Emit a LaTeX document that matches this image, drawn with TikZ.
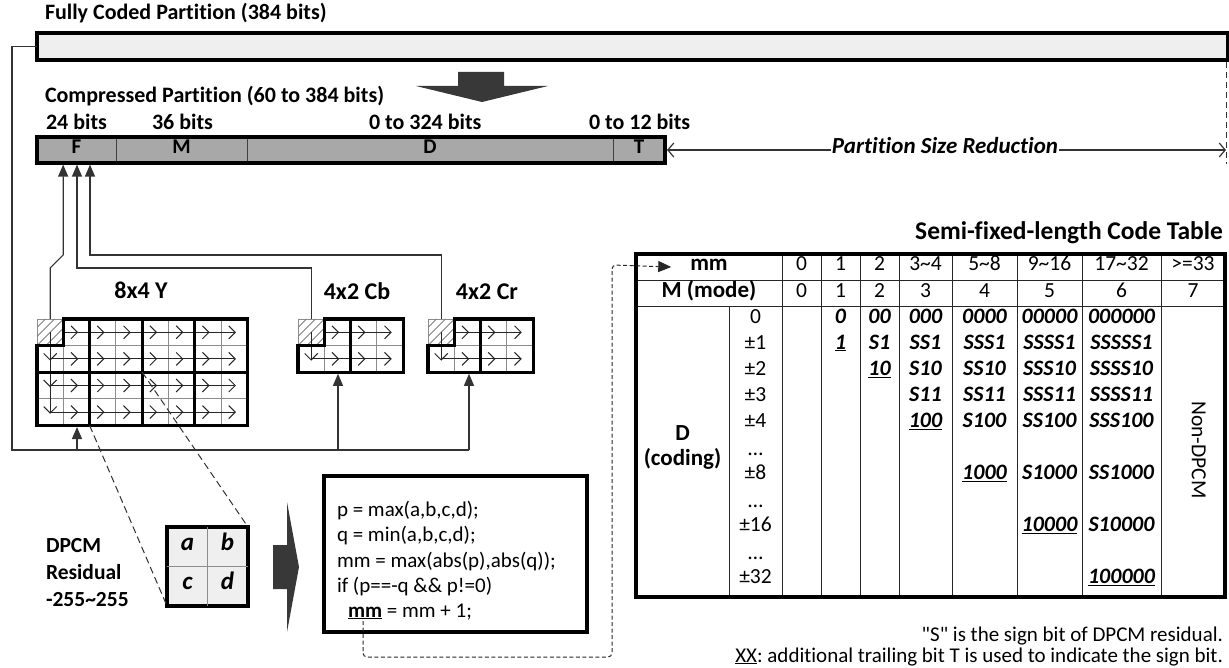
\documentclass[tikz,border=0pt]{standalone}
\usepackage{fontspec}
\setmainfont[Ligatures=NoCommon]{Carlito}
\usetikzlibrary{arrows.meta,calc}
\newcommand\myfs[1]{\fontsize{#1}{#1}\selectfont}
\definecolor{lightbar}{HTML}{EFEFEF}
\definecolor{midbar}{HTML}{A8A8A8}
\definecolor{darkar}{HTML}{383838}
\definecolor{gridgray}{HTML}{8C8C8C}
\newcommand\mychevr[2]{\draw[flow] ({#1-5.5},{#2-6.5}) -- ({#1+1},{#2}) -- ({#1-5.5},{#2+6.5});}
\newcommand\mychevd[2]{\draw[flow] ({#1-6.5},{#2-5.5}) -- ({#1},{#2+1}) -- ({#1+6.5},{#2-5.5});}
\def\cw{26.3}
\def\ch{26.6}
\newcommand\mygrid[5]{%
  \pgfmathsetmacro\gW{#4*\cw}%
  \pgfmathsetmacro\gH{#5*\ch}%
  \pgfmathtruncatemacro\gnm{#4-1}%
  \pgfmathtruncatemacro\gmm{#5-1}%
  \pgfmathtruncatemacro\gnb{#4/2-1}%
  \node[box, draw=gridgray, line width=0.8pt, fill=white, minimum width=\gW pt, minimum height=\gH pt] (#1) at (#2,#3) {};
  \begin{scope}
    \clip (#2,#3) rectangle ++(\cw,\ch);
    \foreach \d in {-18,-9,0,9,18}{\draw[hatch] ({#2+\d},{#3+\ch}) -- ++(\ch,-\ch);}
  \end{scope}
  \foreach \i in {1,...,\gnm}{\draw[gridthin] ({#2+\i*\cw},#3) -- ++(0,\gH);}
  \foreach \j in {1,...,\gmm}{\draw[gridthin] (#2,{#3+\j*\ch}) -- ++(\gW,0);}
  \pgfmathsetmacro\cxa{#2+0.5*\cw}%
  \pgfmathsetmacro\cxe{#2+(#4-0.5)*\cw}%
  \draw[flow] (\cxa,{#3+0.5*\ch}) -- (\cxa,{#3+(#5-0.5)*\ch});
  \foreach \j in {2,...,#5}{\mychevd{\cxa}{#3+(\j-0.5)*\ch}}
  \foreach \j in {1,...,#5}{%
    \pgfmathsetmacro\yy{#3+(\j-0.5)*\ch}%
    \pgfmathsetmacro\xs{\j==1 ? #2+\cw : \cxa}%
    \draw[flow] (\xs,\yy) -- (\cxe,\yy);
    \foreach \i in {2,...,#4}{\mychevr{#2+(\i-0.5)*\cw}{\yy}}
  }
  \draw[thickb] ({#2+\cw},#3) -- ({#2+\gW},#3) -- ({#2+\gW},{#3+\gH}) -- (#2,{#3+\gH}) -- (#2,{#3+\ch}) -- ({#2+\cw},{#3+\ch}) -- cycle;
  \foreach \k in {1,...,\gnb}{\draw[thickb] ({#2+2*\k*\cw},#3) -- ++(0,\gH);}
  \ifnum#5>2 \draw[thickb] (#2,{#3+2*\ch}) -- ++(\gW,0);\fi
}
\newcommand\tv[3]{\node[t, font=\myfs{22}\bfseries\itshape] at (#1,{320+26*#2}) {#3};}
\begin{document}
\frenchspacing
\begin{tikzpicture}[x=1pt,y=-1pt,
  box/.style={inner sep=0pt, outer sep=0pt, anchor=north west},
  thickb/.style={line width=3.2pt},
  gridthin/.style={draw=gridgray, line width=0.9pt},
  hatch/.style={draw=gray, line width=0.9pt},
  flow/.style={draw=black!85, line width=1pt},
  conn/.style={draw=black!80, line width=1.2pt},
  arr/.style={conn, -{Triangle[length=12pt,width=10pt]}},
  t/.style={inner sep=0pt, outer sep=0pt, text height=.64em, text depth=0pt},
  lbl/.style={t, anchor=west, font=\myfs{22}\bfseries},
  seg/.style={box, draw=black!75, line width=0.9pt, fill=midbar, minimum height=26pt, font=\myfs{21}\bfseries, text height=.64em, text depth=0pt},
  tline/.style={draw=black!85, line width=1pt},
  zoomdash/.style={draw=black!80, line width=1pt, dash pattern=on 7pt off 4pt},
  mmdash/.style={draw=black!85, line width=1pt, dash pattern=on 4pt off 2.5pt}
]
\useasboundingbox (0,0) rectangle (1229,668);

% ---- fully coded partition
\node[lbl] (title) at (45,16) {Fully Coded Partition (384 bits)};
\node[box, draw, line width=3.2pt, fill=lightbar, minimum width=1191pt, minimum height=27pt] (full) at (37,33) {};
\fill[darkar] (458,72) -- (504,72) -- (504,86) -- (548,86) -- (482,102) -- (416,86) -- (458,86) -- cycle;

% ---- compressed partition
\node[lbl] (ctitle) at (45,99) {Compressed Partition (60 to 384 bits)};
\node[lbl] at (46,126) {24 bits};
\node[lbl] at (152,126) {36 bits};
\node[lbl] at (369,126) {0 to 324 bits};
\node[lbl] at (589,126) {0 to 12 bits};
\node[seg, minimum width=79pt] (F) at (37,137) {F};
\node[seg, minimum width=131pt] (M) at (116,137) {M};
\node[seg, minimum width=366pt] (D) at (247,137) {D};
\node[seg, minimum width=52pt] (T) at (613,137) {T};
\draw[thickb] (F.north west) rectangle (T.south east);

% ---- partition size reduction
\coordinate (psrtop) at (1226,62);
\coordinate (psrbot) at (1226,164);
\coordinate (psrR) at (1226,150);
\draw[conn, line width=1pt, dash pattern=on 6pt off 4pt] (psrtop) -- (psrbot);
\draw[conn, {Straight Barb[length=6pt,width=14pt]}-{Straight Barb[length=6pt,width=14pt]}] ($(T.east)+(2,0)$) -- (psrR);
\node[t, fill=white, inner xsep=1pt, inner ysep=3pt, font=\myfs{23}\bfseries\itshape] (psr) at (945,150) {Partition Size Reduction};

% ---- grids
\mygrid{Y}{37}{319}{8}{4}
\mygrid{Cb}{298}{319}{4}{2}
\mygrid{Cr}{428}{319}{4}{2}
\node[t, font=\myfs{24}\bfseries] at (141,295) {8x4 Y};
\node[t, font=\myfs{24}\bfseries] at (357,296) {4x2 Cb};
\node[t, font=\myfs{24}\bfseries] at (487,296) {4x2 Cr};

% ---- connectors to F
\coordinate (f1) at ($(F.south west)+(26.15,1.6)$);
\coordinate (f2) at ($(F.south west)+(40,1.6)$);
\coordinate (f3) at ($(F.south west)+(53,1.6)$);
\draw[arr] ($(Y.north west)+(13.15,0)$) -- ++(0,-51) -- ++(13,-13) -- (f1);
\draw[arr] ($(Cb.north west)+(13.15,0)$) -- ++(0,-51) -| (f2);
\draw[arr] ($(Cr.north west)+(13.15,0)$) -- ++(0,-64) -| (f3);

% ---- feed from fully coded partition
\coordinate (fb) at (12,450);
\coordinate (yin) at ($(Y.south west)+(40,1.6)$);
\coordinate (cbin) at ($(Cb.south west)+(40,1.6)$);
\coordinate (crin) at ($(Cr.south west)+(41,1.6)$);
\draw[conn] (full.west) -| (fb) -- (fb -| crin);
\draw[arr] (fb -| yin) -- (yin);
\draw[arr] (fb -| cbin) -- (cbin);
\draw[arr] (fb -| crin) -- (crin);

% ---- abcd block
\node[box, draw, line width=3.2pt, fill=lightbar, minimum width=81pt, minimum height=79pt] (abcd) at (167,527) {};
\draw[gridthin] (abcd.north) -- (abcd.south);
\draw[gridthin] (abcd.west) -- (abcd.east);
\node[t, font=\myfs{25}\bfseries\itshape] at ($(abcd.north west)+(20.5,20)$) {a};
\node[t, font=\myfs{25}\bfseries\itshape] at ($(abcd.north west)+(60.5,20)$) {b};
\node[t, font=\myfs{25}\bfseries\itshape] at ($(abcd.north west)+(20.5,59.5)$) {c};
\node[t, font=\myfs{25}\bfseries\itshape] at ($(abcd.north west)+(60.5,59.5)$) {d};
\draw[zoomdash] ($(Y.south west)+(52.6,0)$) -- (abcd.south west);
\draw[zoomdash] ($(Y.north west)+(105.2,53.2)$) -- (abcd.north east);
\node[t, anchor=west, font=\myfs{21.5}\bfseries] at (46,549) {DPCM};
\node[t, anchor=west, font=\myfs{21.5}\bfseries] at (46,576) {Residual};
\node[t, anchor=west, font=\myfs{21.5}\bfseries] at (46,603) {-255\textasciitilde255};
\fill[darkar] (273,545) -- (287,545) -- (287,502) -- (299,567) -- (287,632) -- (287,589) -- (273,589) -- cycle;

% ---- code box
\node[box, draw, line width=3.2pt, fill=white, minimum width=263pt, minimum height=156pt] (code) at (324,476) {};
\node[t, anchor=west, font=\myfs{21}] at (337,513) {p = max(a,b,c,d);};
\node[t, anchor=west, font=\myfs{21}] at (337,538) {q = min(a,b,c,d);};
\node[t, anchor=west, font=\myfs{21}] at (337,564) {mm = max(abs(p),abs(q));};
\node[t, anchor=west, font=\myfs{21}] at (337,589) {if (p==-q \&\& p!=0)};
\node[t, anchor=west, font=\myfs{21}] (l5) at (348,614) {\underline{\textbf{mm}} = mm + 1;};
\coordinate (mmu) at (363,621);

% ---- table
\node[box, minimum width=589pt, minimum height=343pt] (tbl) at (636,254) {};
\node[t, anchor=east, font=\myfs{25.5}\bfseries] at (1223,236) {Semi-fixed-length Code Table};
\foreach \x in {782,821,860,899,952,1017,1082,1161}{\draw[tline] (\x,254) -- (\x,597);}
\draw[tline] (729,307) -- (729,597);
\draw[tline] (636,280.5) -- (1225,280.5);
\draw[tline] (636,307) -- (1225,307);
\draw[thickb] (tbl.north west) rectangle (tbl.south east);
\node[t, font=\myfs{23}\bfseries] (mmh) at (709,267) {mm};
\node[t, font=\myfs{23}\bfseries] at (709,294) {M (mode)};
\foreach \x/\s in {801.5/0, 840.5/1, 879.5/2, 925.5/3\textasciitilde4, 984.5/5\textasciitilde8, 1049.5/9\textasciitilde16, 1121.5/17\textasciitilde32, 1193/>=33}{\node[t, font=\myfs{21.5}] at (\x,267) {\s};}
\foreach \x/\s in {801.5/0, 840.5/1, 879.5/2, 925.5/3, 984.5/4, 1049.5/5, 1121.5/6, 1193/7}{\node[t, font=\myfs{21.5}] at (\x,294) {\s};}
\node[t, font=\myfs{23}\bfseries] at (682.5,437) {D};
\node[t, font=\myfs{23}\bfseries] at (682.5,462) {(coding)};
\foreach \r/\s in {0/0, 1/±1, 2/±2, 3/±3, 4/±4, 6/±8, 8/±16, 10/±32}{\node[t, font=\myfs{21.5}] at (755.5,{320+26*\r}) {\s};}
\foreach \r in {5,7,9}{\node[inner sep=0pt, font=\myfs{21.5}] at (755.5,{324+26*\r}) {…};}
\tv{840.5}{0}{0}
\tv{840.5}{1}{\underline{1}}
\tv{879.5}{0}{00}
\tv{879.5}{1}{S1}
\tv{879.5}{2}{\underline{10}}
\tv{925.5}{0}{000}
\tv{925.5}{1}{SS1}
\tv{925.5}{2}{S10}
\tv{925.5}{3}{S11}
\tv{925.5}{4}{\underline{100}}
\tv{984.5}{0}{0000}
\tv{984.5}{1}{SSS1}
\tv{984.5}{2}{SS10}
\tv{984.5}{3}{SS11}
\tv{984.5}{4}{S100}
\tv{984.5}{6}{\underline{1000}}
\tv{1049.5}{0}{00000}
\tv{1049.5}{1}{SSSS1}
\tv{1049.5}{2}{SSS10}
\tv{1049.5}{3}{SSS11}
\tv{1049.5}{4}{SS100}
\tv{1049.5}{6}{S1000}
\tv{1049.5}{8}{\underline{10000}}
\tv{1121.5}{0}{000000}
\tv{1121.5}{1}{SSSSS1}
\tv{1121.5}{2}{SSSS10}
\tv{1121.5}{3}{SSSS11}
\tv{1121.5}{4}{SSS100}
\tv{1121.5}{6}{SS1000}
\tv{1121.5}{8}{S10000}
\tv{1121.5}{10}{\underline{100000}}
\node[t, rotate=-90, font=\myfs{21.5}] at (1195,450) {Non-DPCM};

% ---- mm dashed link
\coordinate (mmtip) at ($(mmh.west)+(-19,0)$);
\draw[mmdash, rounded corners=4pt, -{Triangle[length=13pt,width=11pt]}] (mmu) -- (363,657) -| (612,265) -- (mmtip);

% ---- notes
\node[t, anchor=east, font=\myfs{21}] at (1223,638) {\textquotedbl S\textquotedbl\ is the sign bit of DPCM residual.};
\node[t, anchor=east, font=\myfs{21}] at (1223,659) {\underline{XX}: additional trailing bit T is used to indicate the sign bit.};
\end{tikzpicture}
\end{document}
